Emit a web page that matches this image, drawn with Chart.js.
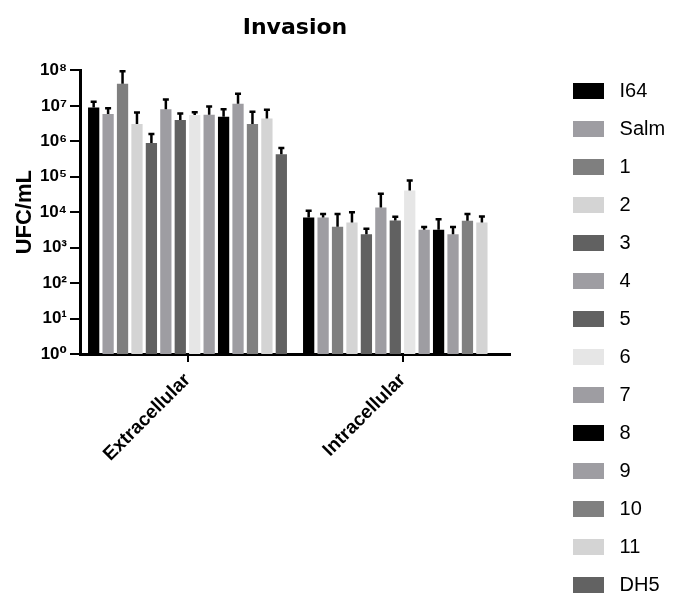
<!DOCTYPE html>
<html>
<head>
<meta charset="utf-8">
<script src="https://cdn.jsdelivr.net/npm/chart.js@4.4.1/dist/chart.umd.min.js"></script>
<style>
  html, body { margin: 0; padding: 0; background: #fff; overflow: hidden; }
  #wrap { position: relative; width: 673px; height: 613px; }
</style>
</head>
<body>
<div id="wrap"><canvas id="invasionChart"></canvas></div>
<script>
const groups = ['Extracellular', 'Intracellular'];
const strains = ['I64', 'Salm', '1', '2', '3', '4', '5', '6', '7', '8', '9', '10', '11', 'DH5'];

// média UFC/mL
const extracellular = [9.0e6, 5.9e6, 4.2e7, 3.1e6, 9.0e5, 8.0e6, 4.0e6, 5.5e6, 5.6e6, 4.9e6, 1.15e7, 3.1e6, 4.4e6, 4.3e5];
const intracellular = [7.1e3, 7.1e3, 3.9e3, 5.1e3, 2.4e3, 1.35e4, 5.8e3, 4.1e4, 3.2e3, 3.2e3, 2.4e3, 5.7e3, 5.1e3, null];

// topo da barra de erro
const extracellularUpper = [1.3e7, 8.5e6, 9.4e7, 6.5e6, 1.6e6, 1.5e7, 6.1e6, 6.6e6, 9.6e6, 8.0e6, 2.2e7, 6.8e6, 7.7e6, 6.5e5];
const intracellularUpper = [1.1e4, 8.9e3, 8.9e3, 1.0e4, 3.4e3, 3.3e4, 7.4e3, 7.8e4, 3.8e3, 6.3e3, 3.8e3, 8.9e3, 7.6e3, null];

const yTicks = [1, 1e1, 1e2, 1e3, 1e4, 1e5, 1e6, 1e7, 1e8];
const yTickLabels = ['10\u2070', '10\u00b9', '10\u00b2', '10\u00b3', '10\u2074', '10\u2075', '10\u2076', '10\u2077', '10\u2078'];

const colors = ['#000000', '#9e9da2', '#7f7f7f', '#d4d4d4', '#616161', '#9e9da2', '#616161',
                '#e6e6e6', '#9e9da2', '#000000', '#9e9da2', '#808080', '#d4d4d4', '#626262'];

const datasets = strains.map((s, i) => ({
  label: s,
  data: [extracellular[i], intracellular[i]],
  upper: [extracellularUpper[i], intracellularUpper[i]],
  backgroundColor: colors[i],
  borderWidth: 0,
  categoryPercentage: 0.94,
  barPercentage: 0.78,
}));

// barras de erro (só para cima)
const errorBars = {
  id: 'errorBars',
  afterDatasetsDraw(chart) {
    const ctx = chart.ctx;
    const y = chart.scales.y;
    ctx.save();
    ctx.strokeStyle = '#000';
    ctx.lineWidth = 2.5;
    chart.data.datasets.forEach((ds, i) => {
      const meta = chart.getDatasetMeta(i);
      meta.data.forEach((bar, j) => {
        if (ds.data[j] == null || ds.upper[j] == null) return;
        const yTop = y.getPixelForValue(ds.upper[j]);
        ctx.beginPath();
        ctx.moveTo(bar.x, bar.y);
        ctx.lineTo(bar.x, yTop);
        ctx.moveTo(bar.x - 3, yTop);
        ctx.lineTo(bar.x + 3, yTop);
        ctx.stroke();
      });
    });
    ctx.restore();
  }
};

Chart.defaults.font.family = "'Liberation Sans', Arial, 'DejaVu Sans', sans-serif";
Chart.defaults.color = '#000';

const ctx = document.getElementById('invasionChart').getContext('2d');
const chart = new Chart(ctx, {
  type: 'bar',
  data: { labels: groups, datasets: datasets },
  plugins: [errorBars],
  options: {
    responsive: true,
    maintainAspectRatio: false,
    animation: false,
    layout: { padding: { right: 7 } },
    scales: {
      x: {
        grid: { display: true, drawOnChartArea: false, offset: false, color: '#000', lineWidth: 2, tickLength: 8 },
        border: { color: '#000', width: 3 },
        ticks: {
          minRotation: 45,
          maxRotation: 45,
          padding: 7,
          font: { size: 19, weight: 'bold' },
        },
        afterFit(s) { s.height = 259; },
      },
      y: {
        type: 'logarithmic',
        min: 1,
        max: 1e8,
        afterBuildTicks(s) { s.ticks = yTicks.map(v => ({ value: v })); },
        grid: { display: true, drawOnChartArea: false, color: '#000', lineWidth: 2, tickLength: 10 },
        border: { color: '#000', width: 3 },
        ticks: {
          padding: 3,
          font: { size: 17, weight: 'bold' },
          callback: (v) => yTickLabels[yTicks.indexOf(v)],
        },
        title: {
          display: true,
          text: 'UFC/mL',
          font: { size: 22, weight: 'bold' },
          padding: { top: 12, bottom: 0 },
        },
        afterFit(s) { s.width = 80; },
      },
      pad: {
        type: 'linear',
        position: 'right',
        display: true,
        grid: { display: false },
        border: { display: false },
        ticks: { display: false },
        afterFit(s) { s.width = 45; },
      },
    },
    plugins: {
      title: {
        display: true,
        text: 'Invasion',
        fullSize: false,
        font: { family: "'DejaVu Sans', sans-serif", size: 22, weight: 'bold' },
        padding: { top: 15, bottom: 29 },
      },
      legend: {
        display: true,
        position: 'right',
        align: 'end',
        labels: {
          boxWidth: 31,
          boxHeight: 16,
          padding: 18,
          font: { size: 20 },
          color: '#000',
          generateLabels: (c) => Chart.defaults.plugins.legend.labels.generateLabels(c)
            .map(l => Object.assign(l, { text: ' ' + l.text, lineWidth: 0 })),
        },
      },
      tooltip: { enabled: false },
    },
  },
});
</script>
</body>
</html>
